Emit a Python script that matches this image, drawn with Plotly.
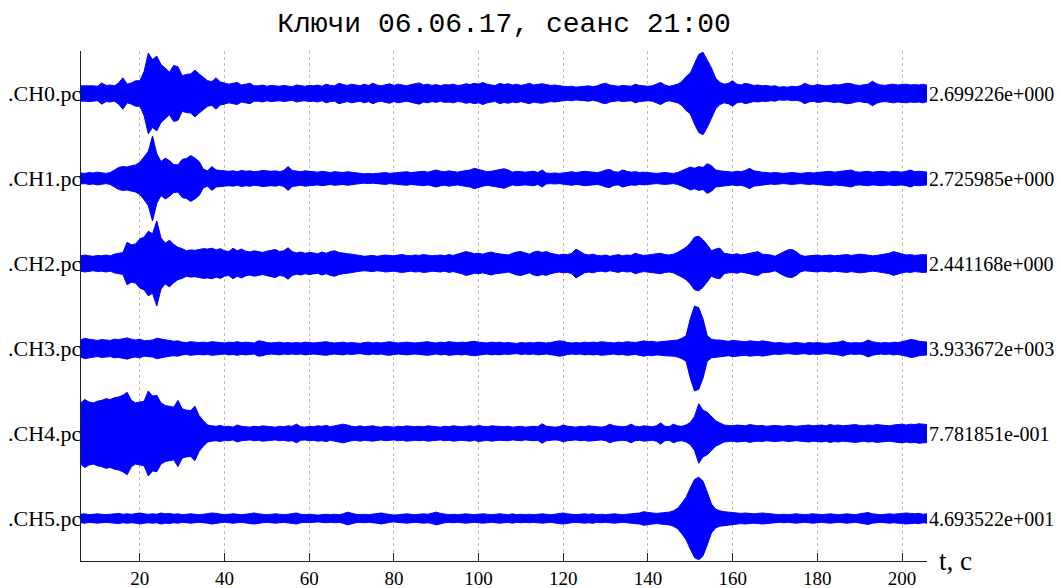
import plotly.graph_objects as go

# ---------------- data ----------------
title_text = "Ключи 06.06.17, сеанс 21:00"
channel_names = [".CH0.pc", ".CH1.pc", ".CH2.pc", ".CH3.pc", ".CH4.pc", ".CH5.pc"]
scale_labels = ["2.699226e+000", "2.725985e+000", "2.441168e+000",
                "3.933672e+003", "7.781851e-001", "4.693522e+001"]
x_ticks = [20, 40, 60, 80, 100, 120, 140, 160, 180, 200]
x_label = "t, c"

# time axis, seconds (one envelope sample per second)
time_s = list(range(6, 207))

# normalized envelope amplitude of each trace, % of trace maximum
amp_ch0 = [18, 18, 19, 18, 17, 25, 19, 20, 18, 25,
           37, 22, 25, 30, 30, 52, 95, 80, 88, 68,
           60, 50, 66, 63, 42, 45, 46, 55, 46, 37,
           30, 28, 37, 27, 25, 22, 24, 26, 20, 22,
           24, 18, 18, 20, 17, 19, 18, 17, 19, 18,
           16, 20, 18, 17, 19, 18, 20, 17, 22, 19,
           18, 24, 21, 19, 22, 20, 18, 22, 19, 24,
           20, 18, 21, 23, 19, 22, 20, 18, 21, 23,
           25, 20, 22, 19, 21, 18, 21, 20, 22, 19,
           20, 23, 21, 24, 22, 26, 22, 20, 19, 24,
           21, 23, 20, 22, 19, 21, 24, 20, 22, 23,
           21, 19, 20, 18, 17, 16, 17, 15, 16, 17,
           18, 16, 18, 22, 24, 20, 18, 17, 19, 18,
           17, 22, 19, 18, 17, 18, 22, 26, 20, 17,
           19, 22, 28, 40, 48, 72, 92, 97, 80, 60,
           36, 26, 22, 24, 30, 22, 20, 24, 22, 19,
           20, 18, 19, 17, 18, 15, 16, 15, 17, 16,
           18, 24, 20, 18, 21, 20, 18, 19, 21, 20,
           22, 24, 23, 20, 19, 21, 22, 29, 23, 20,
           19, 21, 22, 20, 21, 22, 20, 21, 20, 22,
           19]
amp_ch1 = [13, 12, 14, 13, 15, 13, 12, 14, 20, 26,
           28, 27, 30, 32, 38, 50, 64, 100, 58, 40,
           48, 42, 33, 32, 45, 47, 54, 48, 40, 22,
           18, 28, 20, 19, 18, 17, 18, 16, 19, 17,
           18, 16, 17, 19, 18, 17, 18, 16, 19, 28,
           19, 17, 16, 18, 17, 16, 15, 17, 15, 14,
           16, 15, 14, 16, 15, 13, 12, 11, 12, 11,
           12, 13, 14, 12, 13, 14, 15, 16, 14, 15,
           16, 17, 15, 18, 20, 17, 16, 18, 16, 15,
           17, 19, 20, 24, 21, 18, 16, 17, 19, 21,
           23, 20, 15, 17, 16, 15, 16, 17, 14, 20,
           13, 12, 13, 12, 13, 15, 16, 14, 15, 17,
           16, 15, 14, 16, 20, 21, 16, 15, 20, 17,
           15, 16, 14, 15, 14, 13, 12, 13, 14, 13,
           12, 14, 18, 22, 27, 24, 28, 26, 35, 30,
           20, 18, 17, 16, 15, 17, 16, 19, 24, 18,
           16, 15, 14, 13, 14, 13, 12, 13, 14, 13,
           12, 13, 14, 13, 14, 15, 16, 17, 15, 16,
           17, 18, 20, 16, 15, 16, 17, 15, 16, 17,
           16, 15, 17, 16, 15, 17, 20, 16, 17, 16,
           15]
amp_ch2 = [18, 20, 18, 17, 19, 18, 20, 18, 22, 24,
           26, 50, 44, 46, 58, 62, 76, 70, 100, 60,
           48, 55, 45, 38, 35, 30, 32, 31, 33, 35,
           34, 36, 32, 35, 30, 28, 36, 30, 34, 29,
           27, 30, 28, 26, 29, 31, 33, 28, 30, 37,
           28, 25, 27, 24, 26, 25, 23, 27, 24, 28,
           30, 26, 24, 23, 22, 20, 18, 17, 18, 19,
           17, 18, 20, 19, 18, 20, 21, 19, 18, 20,
           19, 21, 20, 18, 19, 20, 18, 21, 19, 22,
           24, 28, 26, 23, 24, 22, 25, 27, 24, 23,
           22, 20, 24, 27, 28, 25, 22, 27, 29, 26,
           28, 24, 22, 20, 22, 21, 24, 34, 28, 22,
           20, 22, 19, 18, 20, 17, 19, 21, 18, 20,
           19, 24, 21, 19, 20, 22, 23, 24, 21, 20,
           22, 26, 32, 38, 48, 62, 64, 56, 44, 30,
           34, 36, 24, 22, 21, 23, 20, 22, 24, 27,
           28, 22, 21, 20, 17, 22, 28, 32, 33, 28,
           20, 17, 18, 19, 20, 18, 19, 20, 18, 19,
           20, 21, 19, 20, 22, 21, 20, 18, 19, 21,
           22, 24, 28, 25, 22, 20, 21, 19, 20, 21,
           20]
amp_ch3 = [20, 24, 22, 20, 19, 21, 20, 19, 22, 21,
           23, 25, 22, 20, 22, 18, 19, 20, 24, 22,
           20, 18, 17, 18, 15, 14, 16, 15, 14, 15,
           14, 16, 15, 14, 13, 15, 14, 16, 14, 15,
           14, 13, 18, 17, 14, 13, 14, 15, 13, 14,
           13, 14, 13, 15, 14, 13, 14, 15, 16, 14,
           13, 14, 15, 13, 14, 13, 12, 14, 15, 13,
           14, 13, 15, 16, 14, 13, 14, 15, 14, 13,
           14, 15, 16, 14, 13, 15, 14, 16, 15, 14,
           15, 14, 16, 17, 15, 14, 13, 15, 14, 15,
           13, 14, 13, 12, 14, 13, 14, 13, 15, 14,
           13, 14, 16, 18, 17, 14, 13, 14, 13, 15,
           14, 15, 14, 16, 15, 14, 13, 15, 14, 16,
           15, 14, 16, 18, 16, 17, 15, 16, 17, 18,
           18, 20, 24, 30, 70, 100, 96, 70, 30, 22,
           20, 20, 18, 17, 19, 18, 17, 16, 18, 17,
           16, 18, 17, 15, 13, 14, 13, 12, 13, 14,
           13, 12, 14, 13, 14, 13, 12, 13, 14, 15,
           18, 14, 13, 14, 13, 15, 20, 16, 14, 13,
           14, 13, 15, 14, 16, 18, 21, 20, 17, 16,
           15]
amp_ch4 = [72, 80, 74, 72, 76, 78, 82, 80, 84, 86,
           90, 97, 78, 72, 74, 76, 100, 88, 90, 72,
           66, 64, 62, 78, 58, 55, 54, 64, 42, 30,
           20, 18, 17, 19, 16, 17, 15, 20, 17, 16,
           15, 17, 16, 18, 17, 16, 15, 17, 16, 18,
           17, 22, 16, 15, 17, 16, 18, 17, 19, 16,
           18, 20, 22, 20, 17, 16, 18, 16, 17, 18,
           16, 15, 17, 16, 15, 17, 16, 18, 17, 16,
           17, 16, 18, 17, 16, 15, 17, 16, 18, 17,
           16, 17, 18, 16, 19, 17, 16, 18, 17, 16,
           16, 17, 15, 16, 17, 15, 16, 17, 16, 23,
           17, 16, 15, 16, 20, 17, 16, 15, 17, 16,
           18, 17, 16, 15, 17, 22, 18, 17, 16, 17,
           22, 17, 16, 18, 17, 16, 18, 25, 17, 16,
           22, 18, 17, 20, 26, 40, 70, 55, 50, 40,
           30, 25, 20, 19, 18, 20, 19, 18, 21, 19,
           18, 19, 17, 18, 19, 18, 17, 19, 18, 17,
           18, 19, 20, 18, 19, 20, 18, 21, 19, 20,
           18, 19, 20, 21, 19, 18, 20, 19, 21, 20,
           19, 18, 20, 21, 22, 20, 22, 21, 23, 22,
           21]
amp_ch5 = [10, 11, 9, 10, 11, 10, 9, 10, 11, 12,
           10, 11, 10, 11, 13, 11, 10, 11, 10, 13,
           11, 12, 10, 11, 9, 10, 11, 10, 9, 10,
           11, 13, 12, 10, 9, 10, 11, 10, 9, 10,
           12, 13, 11, 10, 9, 10, 11, 10, 9, 10,
           12, 13, 10, 9, 10, 9, 8, 9, 10, 9,
           10, 9, 11, 15, 12, 10, 9, 10, 9, 10,
           11, 13, 11, 9, 8, 9, 10, 11, 10, 9,
           10, 11, 10, 12, 15, 12, 10, 9, 10, 9,
           10, 11, 10, 9, 10, 11, 10, 9, 10, 11,
           10, 9, 11, 9, 10, 9, 10, 9, 10, 11,
           10, 9, 10, 12, 13, 11, 10, 9, 10, 11,
           10, 11, 9, 10, 9, 10, 11, 10, 9, 10,
           11, 12, 13, 16, 14, 13, 12, 13, 14, 15,
           18, 24, 36, 50, 72, 92, 97, 88, 62, 34,
           22, 18, 16, 15, 14, 13, 12, 13, 12, 11,
           12, 13, 12, 11, 10, 9, 10, 9, 10, 11,
           10, 9, 10, 11, 10, 9, 10, 11, 10, 9,
           10, 11, 10, 9, 11, 12, 14, 11, 10, 9,
           10, 11, 10, 11, 12, 13, 12, 11, 12, 10,
           11]

amplitudes = [amp_ch0, amp_ch1, amp_ch2, amp_ch3, amp_ch4, amp_ch5]

# ---------------- figure ----------------
TRACE_COLOR = "#0000ff"
SERIF = "Liberation Serif, Times New Roman, serif"
n_ch = len(channel_names)

fig = go.Figure()
for i, amp in enumerate(amplitudes):
    center = n_ch - 0.5 - i
    upper = [center + 0.5 * a / 100.0 for a in amp]
    lower = [center - 0.5 * a / 100.0 for a in amp]
    fig.add_trace(go.Scatter(
        x=time_s + time_s[::-1],
        y=upper + lower[::-1],
        mode="lines",
        fill="toself",
        fillcolor=TRACE_COLOR,
        line=dict(color=TRACE_COLOR, width=1),
        hoverinfo="skip",
        showlegend=False,
    ))

annotations = []
for i, (name, sc) in enumerate(zip(channel_names, scale_labels)):
    center = n_ch - 0.5 - i
    annotations.append(dict(
        x=0, xref="paper", y=center, yref="y", text=name, showarrow=False,
        xanchor="right", yanchor="middle", xshift=3,
        font=dict(family=SERIF, size=22, color="black")))
    annotations.append(dict(
        x=1, xref="paper", y=center, yref="y", text=sc, showarrow=False,
        xanchor="left", yanchor="middle", xshift=0,
        font=dict(family=SERIF, size=20, color="black")))
annotations.append(dict(
    x=1, xref="paper", y=0, yref="paper", text=x_label, showarrow=False,
    xanchor="left", yanchor="middle", xshift=10, yshift=0,
    font=dict(family=SERIF, size=27, color="black")))

fig.update_layout(
    width=1061, height=588,
    margin=dict(l=81, r=134, t=51, b=27, autoexpand=False),
    paper_bgcolor="white", plot_bgcolor="white",
    title=dict(text=title_text, x=0.5, xref="paper", xanchor="center",
               y=1 - 22 / 588, yref="container", yanchor="middle",
               font=dict(family="Liberation Mono, Courier New, monospace",
                         size=28, color="black")),
    xaxis=dict(range=[6.1, 205.9], tickvals=x_ticks, ticks="inside", ticklen=8,
               tickwidth=1, tickcolor="#222", showline=True, linecolor="#222",
               linewidth=1, showgrid=True, gridcolor="#bdbdbd", griddash="dot",
               gridwidth=1, zeroline=False, automargin=False,
               tickfont=dict(family=SERIF, size=19, color="black")),
    yaxis=dict(range=[0, n_ch], showline=True, linecolor="#222", linewidth=1,
               showticklabels=False, ticks="", showgrid=False, zeroline=False,
               automargin=False),
    annotations=annotations,
)

fig.write_html("out.html")
